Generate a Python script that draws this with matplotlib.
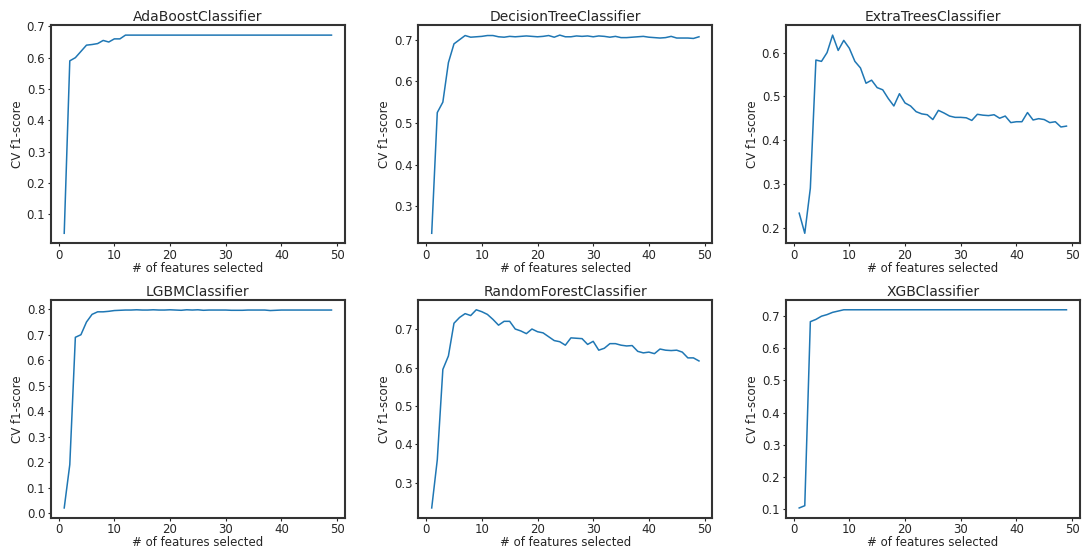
import numpy as np
import matplotlib
matplotlib.use("Agg")
import matplotlib.pyplot as plt

# nombres de los modelos
modelos = ["AdaBoostClassifier", "DecisionTreeClassifier", "ExtraTreesClassifier",
           "LGBMClassifier", "RandomForestClassifier", "XGBClassifier"]

n_features = list(range(1, 50))

ada = [0.04, 0.59, 0.60, 0.62, 0.64, 0.642, 0.645, 0.655, 0.65, 0.66, 0.66, 0.672] + [0.672] * 37

tree = [0.235, 0.525, 0.55, 0.645, 0.69, 0.70, 0.71, 0.706, 0.707, 0.708, 0.71, 0.71,
        0.707, 0.706, 0.708, 0.707, 0.708, 0.709, 0.708, 0.707, 0.708, 0.71, 0.706, 0.711,
        0.707, 0.707, 0.709, 0.708, 0.709, 0.707, 0.709, 0.708, 0.706, 0.708, 0.705, 0.705,
        0.706, 0.707, 0.708, 0.706, 0.705, 0.704, 0.705, 0.708, 0.704, 0.704, 0.704, 0.703, 0.707]

extra = [0.233, 0.187, 0.29, 0.583, 0.58, 0.60, 0.64, 0.605, 0.628, 0.61, 0.58, 0.565,
         0.53, 0.537, 0.52, 0.515, 0.495, 0.478, 0.506, 0.485, 0.478, 0.465, 0.46, 0.458,
         0.447, 0.468, 0.462, 0.455, 0.452, 0.452, 0.451, 0.445, 0.459, 0.457, 0.456, 0.458,
         0.45, 0.455, 0.44, 0.442, 0.442, 0.463, 0.446, 0.449, 0.447, 0.44, 0.442, 0.43, 0.432]

lgbm = [0.02, 0.19, 0.69, 0.70, 0.75, 0.78, 0.79, 0.79, 0.792, 0.795, 0.796, 0.797,
        0.797, 0.798, 0.797, 0.797, 0.798, 0.797, 0.797, 0.798, 0.797, 0.796, 0.798, 0.797,
        0.798, 0.796, 0.797, 0.797, 0.797, 0.797, 0.796, 0.796, 0.796, 0.797, 0.797, 0.797,
        0.797, 0.795, 0.796, 0.797, 0.797, 0.797, 0.797, 0.797, 0.797, 0.797, 0.797, 0.797, 0.797]

forest = [0.235, 0.36, 0.595, 0.63, 0.715, 0.73, 0.74, 0.735, 0.75, 0.745, 0.738, 0.725,
          0.71, 0.72, 0.72, 0.70, 0.695, 0.688, 0.70, 0.693, 0.69, 0.68, 0.67, 0.667,
          0.658, 0.677, 0.676, 0.675, 0.66, 0.668, 0.645, 0.65, 0.662, 0.662, 0.658, 0.656,
          0.657, 0.642, 0.638, 0.64, 0.636, 0.648, 0.645, 0.644, 0.645, 0.64, 0.625, 0.625, 0.617]

xgb = [0.103, 0.11, 0.683, 0.69, 0.70, 0.705, 0.712, 0.716, 0.72, 0.72, 0.72, 0.72,
       0.72, 0.72, 0.72, 0.72, 0.72] + [0.72] * 32

scores = [ada, tree, extra, lgbm, forest, xgb]

plt.rcParams['font.family'] = 'DejaVu Sans'
plt.rcParams['text.color'] = '#262626'
plt.rcParams['axes.labelcolor'] = '#262626'
plt.rcParams['xtick.color'] = '#262626'
plt.rcParams['ytick.color'] = '#262626'

fig, axes = plt.subplots(2, 3, figsize=(10.82, 5.48), dpi=100)
fig.subplots_adjust(left=0.047, right=0.998, top=0.954, bottom=0.055, wspace=0.25, hspace=0.26)

for ax, nombre, s in zip(axes.flat, modelos, scores):
    ax.plot(n_features, s, color='#1f77b4', lw=1.1)
    ax.set_title(nombre, fontsize=10, pad=3)
    ax.set_xlabel('# of features selected', fontsize=8.5, labelpad=0)
    ax.set_ylabel('CV f1-score', fontsize=8.5, labelpad=2)
    ax.set_xticks([0, 10, 20, 30, 40, 50])
    ax.tick_params(labelsize=8.5, length=2.5, pad=1.5)
    for sp in ax.spines.values():
        sp.set_linewidth(1.5)
        sp.set_color('#333333')

fig.savefig('out.png', dpi=100)
